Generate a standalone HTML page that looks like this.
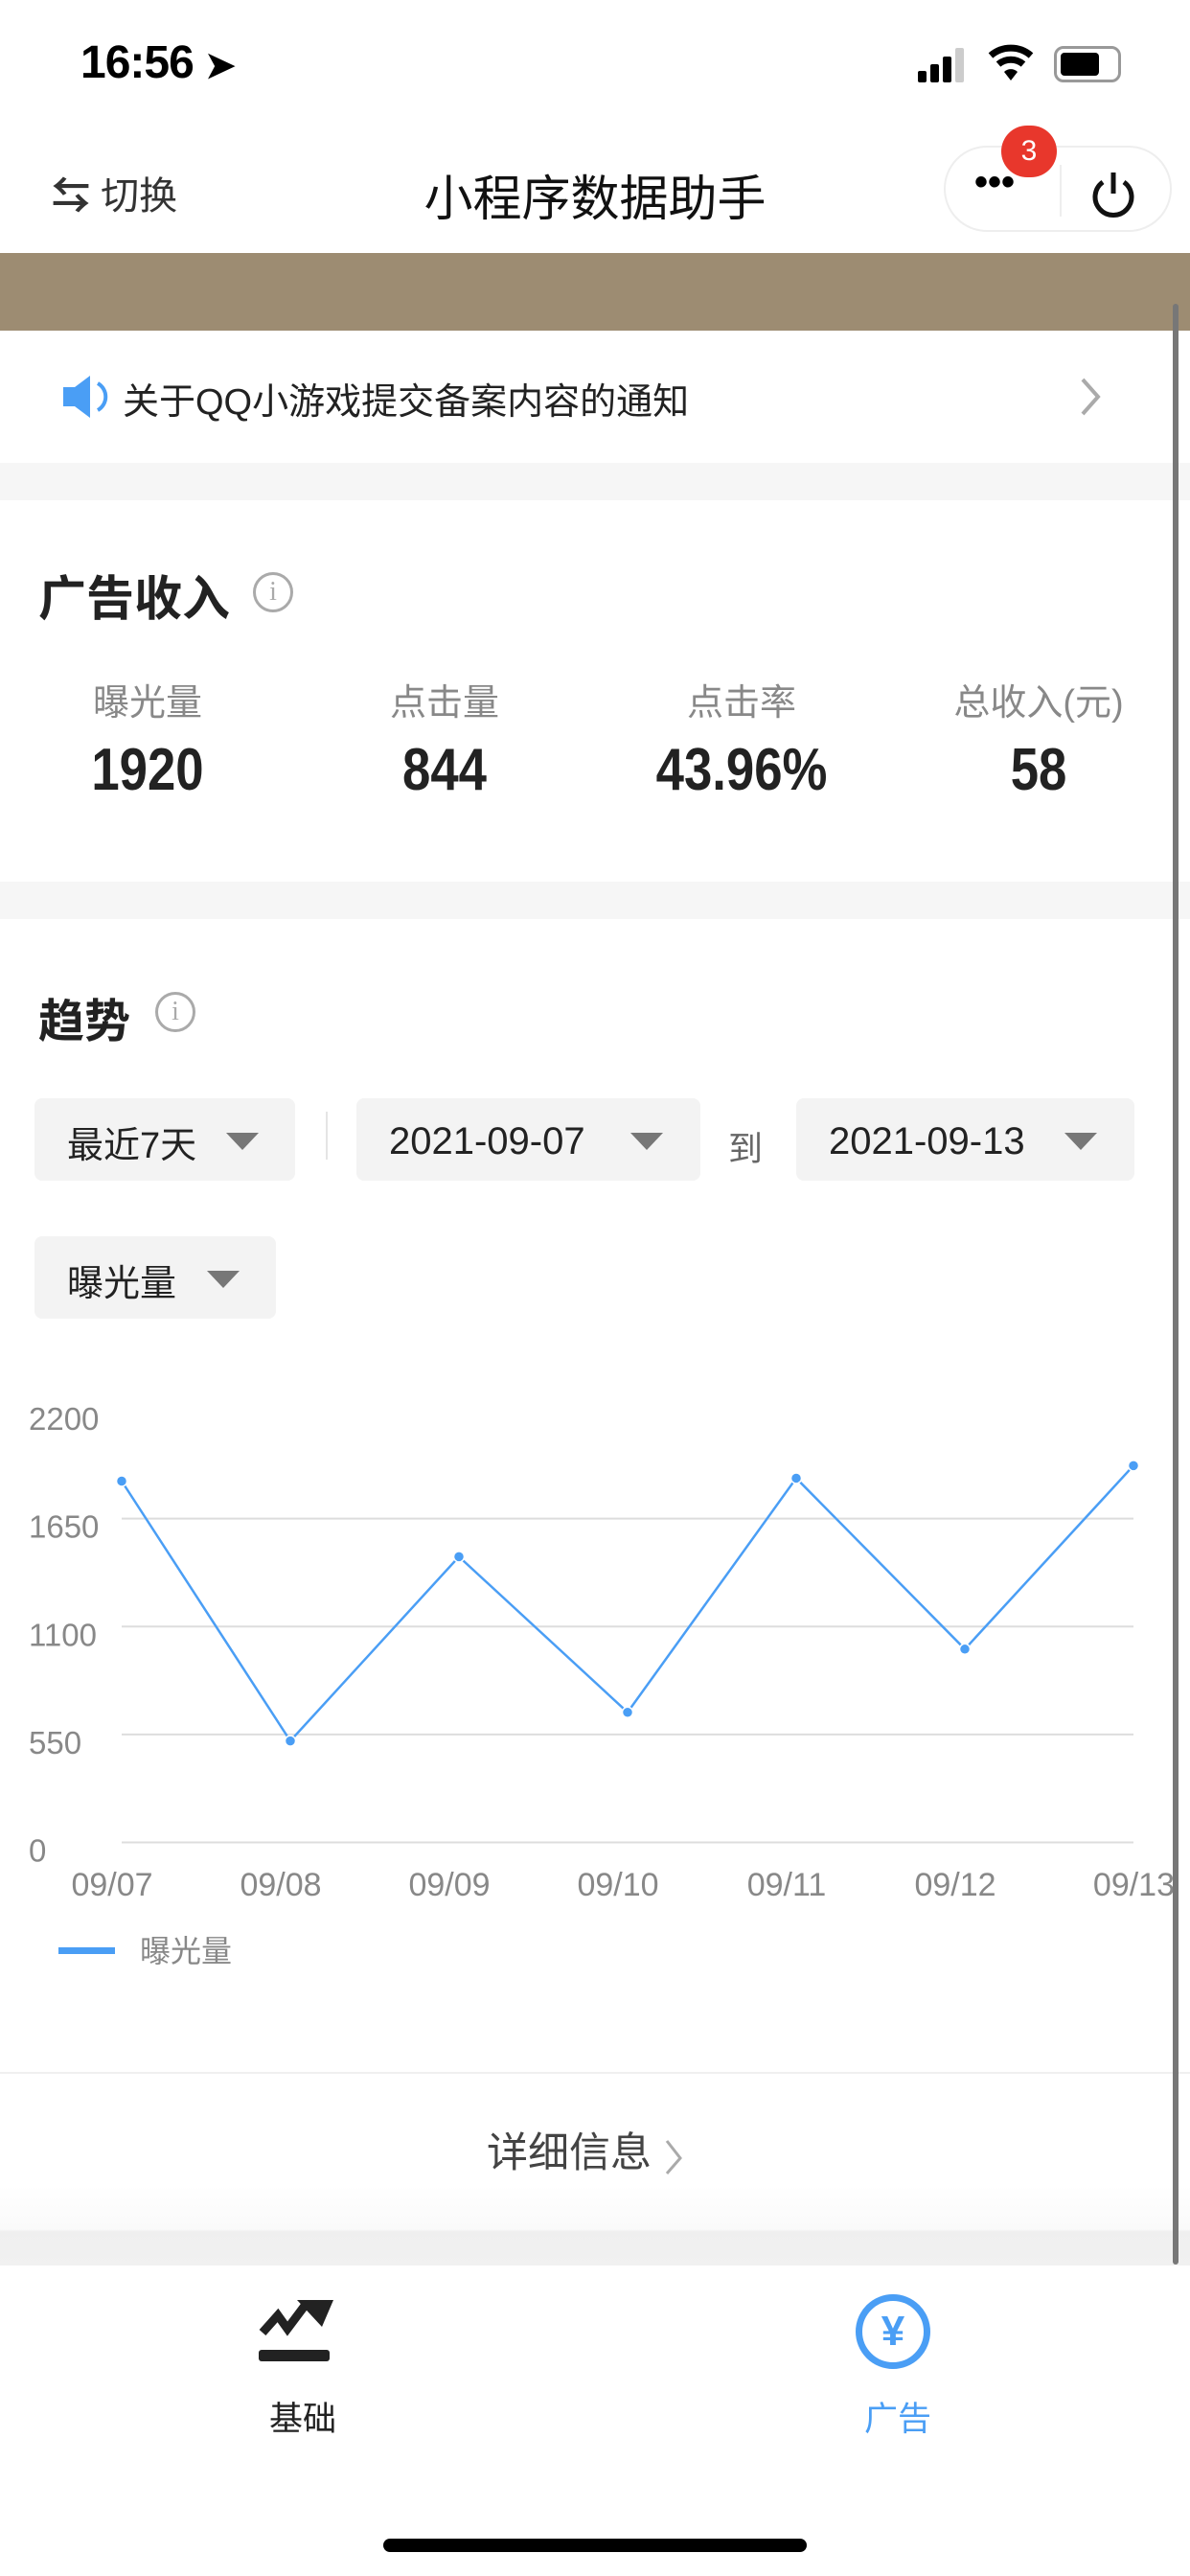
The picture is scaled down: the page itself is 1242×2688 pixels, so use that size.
<!DOCTYPE html>
<html><head><meta charset="utf-8">
<style>
*{margin:0;padding:0;box-sizing:border-box}
body{width:1242px;height:2688px;position:relative;background:#fff;font-family:"Liberation Sans","Noto Sans CJK SC",sans-serif;overflow:hidden}
.a{position:absolute}
.dd{position:absolute;background:#f3f3f3;border-radius:8px;font-size:38px;color:#222;display:flex;align-items:center;padding-left:34px;padding-top:4px}
.tri{position:absolute;width:0;height:0;border-left:17px solid transparent;border-right:17px solid transparent;border-top:18px solid #777;top:36px}
.lab{position:absolute;width:300px;text-align:center;font-size:38px;color:#888;top:702px}
.val{position:absolute;width:300px;text-align:center;font-size:62px;font-weight:bold;color:#222;top:768px;transform:scaleX(0.85)}
.info{position:absolute;width:42px;height:42px;border:3px solid #aaa;border-radius:50%;color:#aaa;font-size:28px;text-align:center;line-height:36px;font-family:"Liberation Serif",serif}
</style></head><body>
<div class="a" style="left:84px;top:38px;font-size:48px;font-weight:bold;letter-spacing:-1px">16:56 <span style="font-size:38px">➤</span></div>
<div class="a" style="left:958px;top:50px;width:56px;height:36px">
<div class="a" style="left:0;top:24px;width:9px;height:12px;background:#000;border-radius:2px"></div>
<div class="a" style="left:13px;top:17px;width:9px;height:19px;background:#000;border-radius:2px"></div>
<div class="a" style="left:26px;top:9px;width:9px;height:27px;background:#000;border-radius:2px"></div>
<div class="a" style="left:39px;top:0;width:9px;height:36px;background:#ccc;border-radius:2px"></div></div>
<div class="a" style="left:1030px;top:42px;font-size:40px">
<svg width="50" height="44"><path d="M4 16 A32 32 0 0 1 46 16" stroke="#000" stroke-width="7" fill="none"/><path d="M12 25 A20 20 0 0 1 38 25" stroke="#000" stroke-width="7" fill="none"/><path d="M18 33 L25 42 L32 33 A10 10 0 0 0 18 33Z" fill="#000"/></svg></div>
<div class="a" style="left:1100px;top:48px;width:70px;height:38px;border:3px solid #999;border-radius:10px"><div class="a" style="left:4px;top:4px;width:40px;height:24px;background:#000;border-radius:4px"></div></div>
<div class="a" style="left:54px;top:172px;font-size:40px;color:#333"><span style="font-weight:bold;font-size:40px">⇆</span> 切换</div>
<div class="a" style="left:0;width:1242px;text-align:center;top:166px;font-size:51px;color:#111">小程序数据助手</div>
<div class="a" style="left:985px;top:152px;width:238px;height:90px;border:2px solid #eee;border-radius:45px">
<div class="a" style="left:119px;top:18px;width:2px;height:54px;background:#eee"></div>
<div class="a" style="left:30px;top:14px;font-size:40px;font-weight:bold">•••</div>
<div class="a" style="left:150px;top:22px"><svg width="50" height="52"><path d="M14 14 A19 19 0 1 0 36 14" stroke="#111" stroke-width="5" fill="none"/><line x1="25" y1="4" x2="25" y2="26" stroke="#111" stroke-width="5"/></svg></div></div>
<div class="a" style="left:1045px;top:131px;width:58px;height:54px;border-radius:29px;background:#e8372c;color:#fff;font-size:30px;text-align:center;line-height:54px">3</div>
<div class="a" style="left:0;top:264px;width:1242px;height:81px;background:#9d8c72"></div>
<div class="a" style="left:64px;top:390px"><svg width="56" height="48"><path d="M2 14 h12 l16 -12 v44 l-16 -12 h-12z" fill="#4a9ef5"/><path d="M38 10 A16 16 0 0 1 38 38" stroke="#4a9ef5" stroke-width="4" fill="none"/></svg></div>
<div class="a" style="left:128px;top:388px;font-size:38px;color:#222">关于QQ小游戏提交备案内容的通知</div>
<div class="a" style="left:1126px;top:392px"><svg width="26" height="44"><path d="M4 4 L20 22 L4 40" stroke="#aaa" stroke-width="4" fill="none"/></svg></div>
<div class="a" style="left:0;top:483px;width:1242px;height:39px;background:#f6f6f6"></div>
<div class="a" style="left:40px;top:585px;font-size:50px;font-weight:bold;color:#222">广告收入</div>
<div class="info" style="left:264px;top:597px">i</div>
<div class="lab" style="left:4px">曝光量</div>
<div class="lab" style="left:314px">点击量</div>
<div class="lab" style="left:624px">点击率</div>
<div class="lab" style="left:934px">总收入(元)</div>
<div class="val" style="left:4px">1920</div>
<div class="val" style="left:314px">844</div>
<div class="val" style="left:624px">43.96%</div>
<div class="val" style="left:934px">58</div>
<div class="a" style="left:0;top:920px;width:1242px;height:39px;background:#f6f6f6"></div>
<div class="a" style="left:40px;top:1026px;font-size:48px;font-weight:bold;color:#222">趋势</div>
<div class="info" style="left:162px;top:1035px">i</div>
<div class="dd" style="left:36px;top:1146px;width:272px;height:86px">最近7天<div class="tri" style="left:200px"></div></div>
<div class="a" style="left:340px;top:1160px;width:2px;height:50px;background:#e5e5e5"></div>
<div class="dd" style="left:372px;top:1146px;width:359px;height:86px;font-size:40px">2021-09-07<div class="tri" style="left:286px"></div></div>
<div class="a" style="left:760px;top:1170px;font-size:36px;color:#666">到</div>
<div class="dd" style="left:831px;top:1146px;width:353px;height:86px;font-size:40px">2021-09-13<div class="tri" style="left:280px"></div></div>
<div class="dd" style="left:36px;top:1290px;width:252px;height:86px">曝光量<div class="tri" style="left:180px"></div></div>
<svg class="a" id="chart" style="left:0;top:1440px" width="1242" height="640"></svg>
<div class="a" style="left:0;top:2162px;width:1242px;height:2px;background:#f0f0f0"></div>
<div class="a" style="left:508px;top:2212px;font-size:43px;color:#444">详细信息 <svg width="24" height="40" style="vertical-align:middle"><path d="M4 4 L18 22 L4 38" stroke="#aaa" stroke-width="3" fill="none"/></svg></div>
<div class="a" style="left:0;top:2280px;width:1242px;height:84px;background:linear-gradient(#fff,#fafafa 55%,#efefef 58%,#f1f1f1)"></div>
<div class="a" style="left:1224px;top:317px;width:6px;height:2046px;background:#777;border-radius:3px"></div>
<div class="a" style="left:270px;top:2400px"><svg width="80" height="66"><path d="M4 34 L20 16 L30 30 L48 6" stroke="#222" stroke-width="9" fill="none"/><path d="M40 0 L78 0 L66 28Z" fill="#222"/><rect x="0" y="52" width="74" height="12" rx="3" fill="#222"/></svg></div>
<div class="a" style="left:281px;top:2496px;font-size:35px;color:#222">基础</div>
<div class="a" style="left:893px;top:2394px;width:78px;height:78px;border:7px solid #4a9ef5;border-radius:50%;color:#4a9ef5;font-size:44px;font-weight:bold;text-align:center;line-height:64px">¥</div>
<div class="a" style="left:902px;top:2496px;font-size:35px;color:#4a9ef5">广告</div>
<div class="a" style="left:400px;top:2649px;width:442px;height:14px;background:#000;border-radius:7px"></div>
<script>
const categories=["09/07","09/08","09/09","09/10","09/11","09/12","09/13"];
const exposureValues=[1841,517,1456,663,1856,985,1920];
const yTicks=[0,550,1100,1650,2200];
const legendLabel="曝光量";
const svg=document.getElementById('chart');
const NS="http://www.w3.org/2000/svg";
const X0=127,X1=1183,YB=482.5,YT=32;
function xs(i){return X0+(X1-X0)*i/(categories.length-1);}
function ys(v){return YB-(YB-YT)*v/2200;}
function mk(t,a){const e=document.createElementNS(NS,t);for(const k in a)e.setAttribute(k,a[k]);svg.appendChild(e);return e;}
yTicks.forEach(v=>{
  if(v<2200){const g=mk('line',{x1:X0,x2:X1,y1:ys(v),y2:ys(v),stroke:'#ddd','stroke-width':2});
  
  }
  const t=mk('text',{x:30,y:ys(v)+20,'font-size':33,fill:'#888','font-family':'Liberation Sans'});t.textContent=v;
  
  
});
categories.forEach((c,i)=>{
  const last=i==categories.length-1;
  const t=mk('text',{x:last?1226:xs(i)-10,y:538,'font-size':34,fill:'#888','text-anchor':last?'end':'middle','font-family':'Liberation Sans'});
  t.textContent=c;
  
  
});
const pl=mk('polyline',{points:exposureValues.map((v,i)=>xs(i)+','+ys(v)).join(' '),fill:'none',stroke:'#4a9ef5','stroke-width':2.5});


exposureValues.forEach((v,i)=>{const p=mk('circle',{cx:xs(i),cy:ys(v),r:5.5,fill:'#4a9ef5',stroke:'#fff','stroke-width':1.5});
  
  });
const ll=mk('rect',{x:61,y:592,width:59,height:7,fill:'#4a9ef5'});


const lt=mk('text',{x:146,y:607,'font-size':32,fill:'#888','font-family':'Liberation Sans, Noto Sans CJK SC'});lt.textContent=legendLabel;


</script>
</body></html>
